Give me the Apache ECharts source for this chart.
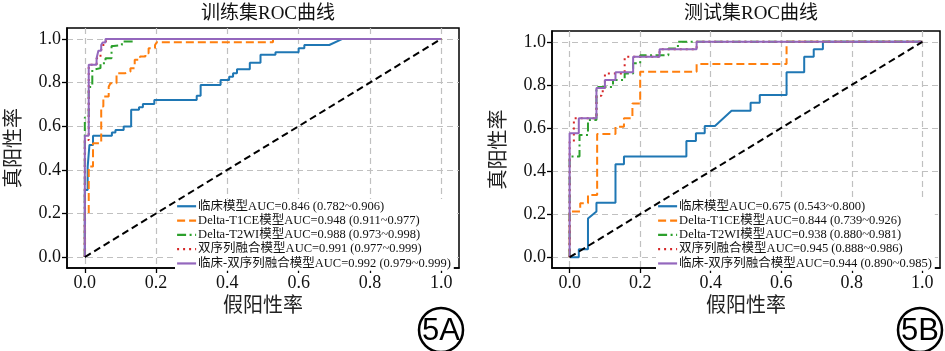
<!DOCTYPE html>
<html><head><meta charset="utf-8">
<script src="https://cdn.jsdelivr.net/npm/echarts@6.0.0/dist/echarts.min.js"></script>
<style>html,body{margin:0;padding:0;background:#fff}#c{width:945px;height:351px}</style>
</head><body><div id="c"></div><script>
// ---------- data ----------
const tickValues = [0, 0.2, 0.4, 0.6, 0.8, 1.0];
const titles = ['训练集ROC曲线', '测试集ROC曲线'];
const xName = '假阳性率';
const yName = '真阳性率';
const panelTags = ['5A', '5B'];

const trainNames = [
  '临床模型AUC=0.846 (0.782~0.906)',
  'Delta-T1CE模型AUC=0.948 (0.911~0.977)',
  'Delta-T2WI模型AUC=0.988 (0.973~0.998)',
  '双序列融合模型AUC=0.991 (0.977~0.999)',
  '临床-双序列融合模型AUC=0.992 (0.979~0.999)'
];
const testNames = [
  '临床模型AUC=0.675 (0.543~0.800)',
  'Delta-T1CE模型AUC=0.844 (0.739~0.926)',
  'Delta-T2WI模型AUC=0.938 (0.880~0.981)',
  '双序列融合模型AUC=0.945 (0.888~0.986)',
  '临床-双序列融合模型AUC=0.944 (0.890~0.985)'
];

// [FPR, TPR] points, training set
const trainClinical = [[0,0],[0,0.307],[0.008,0.307],[0.008,0.415],[0.013,0.415],[0.013,0.514],[0.023,0.514],[0.023,0.556],[0.076,0.556],[0.076,0.571],[0.086,0.571],[0.086,0.583],[0.109,0.583],[0.109,0.598],[0.13,0.598],[0.13,0.675],[0.152,0.675],[0.152,0.687],[0.163,0.687],[0.163,0.702],[0.195,0.702],[0.195,0.72],[0.314,0.72],[0.314,0.739],[0.325,0.739],[0.325,0.789],[0.381,0.789],[0.381,0.812],[0.405,0.812],[0.405,0.827],[0.416,0.827],[0.416,0.843],[0.427,0.843],[0.427,0.861],[0.463,0.861],[0.463,0.891],[0.493,0.891],[0.493,0.927],[0.535,0.927],[0.535,0.939],[0.6,0.939],[0.6,0.957],[0.616,0.957],[0.616,0.972],[0.686,0.972],[0.723,1],[1,1]];
const trainT1CE = [[0,0],[0,0.2],[0.011,0.2],[0.011,0.415],[0.023,0.415],[0.023,0.522],[0.046,0.522],[0.046,0.69],[0.052,0.69],[0.052,0.736],[0.067,0.736],[0.067,0.781],[0.072,0.781],[0.072,0.797],[0.089,0.797],[0.089,0.843],[0.114,0.843],[0.114,0.85],[0.128,0.85],[0.128,0.866],[0.14,0.866],[0.14,0.904],[0.155,0.904],[0.155,0.919],[0.17,0.919],[0.17,0.934],[0.179,0.934],[0.179,0.957],[0.197,0.957],[0.197,0.972],[0.202,0.972],[0.202,0.985],[0.528,0.985],[0.528,1],[1,1]];
const trainT2WI = [[0,0],[0,0.64],[0.011,0.64],[0.011,0.78],[0.021,0.78],[0.021,0.858],[0.025,0.858],[0.025,0.866],[0.044,0.866],[0.044,0.889],[0.058,0.889],[0.058,0.911],[0.075,0.911],[0.075,0.968],[0.081,0.968],[0.081,0.972],[0.104,0.972],[0.104,0.988],[0.137,0.988],[0.137,1],[1,1]];
const trainFusion = [[0,0],[0,0.537],[0.011,0.537],[0.011,0.881],[0.033,0.881],[0.033,0.911],[0.044,0.911],[0.044,0.935],[0.049,0.935],[0.049,0.972],[0.058,0.972],[0.058,0.985],[0.062,0.985],[0.062,1],[1,1]];
const trainFusionClinical = [[0,0],[0,0.556],[0.011,0.556],[0.011,0.881],[0.033,0.881],[0.033,0.911],[0.038,0.911],[0.038,0.946],[0.046,0.946],[0.046,0.972],[0.05,0.972],[0.05,0.983],[0.058,0.983],[0.058,1],[1,1]];

// [FPR, TPR] points, test set
const testClinical = [[0,0],[0.026,0],[0.026,0.037],[0.052,0.037],[0.052,0.18],[0.076,0.212],[0.076,0.253],[0.13,0.253],[0.13,0.431],[0.154,0.431],[0.154,0.467],[0.331,0.467],[0.331,0.539],[0.358,0.539],[0.358,0.575],[0.383,0.575],[0.383,0.609],[0.412,0.609],[0.459,0.68],[0.513,0.68],[0.513,0.717],[0.539,0.717],[0.539,0.753],[0.615,0.753],[0.615,0.858],[0.665,0.858],[0.665,0.93],[0.692,0.93],[0.692,0.965],[0.718,0.965],[0.718,1],[1,1]];
const testT1CE = [[0,0],[0,0.212],[0.03,0.212],[0.03,0.25],[0.052,0.25],[0.052,0.289],[0.078,0.289],[0.078,0.572],[0.13,0.572],[0.13,0.606],[0.154,0.606],[0.154,0.645],[0.178,0.645],[0.178,0.714],[0.2,0.714],[0.2,0.861],[0.36,0.861],[0.36,0.897],[0.615,0.897],[0.615,1],[1,1]];
const testT2WI = [[0,0],[0,0.467],[0.028,0.467],[0.028,0.567],[0.052,0.567],[0.052,0.637],[0.076,0.637],[0.076,0.79],[0.123,0.79],[0.123,0.822],[0.156,0.822],[0.156,0.853],[0.18,0.853],[0.18,0.9],[0.2,0.9],[0.2,0.938],[0.28,0.938],[0.28,0.969],[0.307,0.969],[0.307,1],[1,1]];
const testFusion = [[0,0],[0,0.536],[0.012,0.536],[0.012,0.645],[0.076,0.645],[0.076,0.75],[0.09,0.75],[0.09,0.77],[0.1,0.77],[0.1,0.853],[0.156,0.853],[0.156,0.93],[0.255,0.93],[0.255,0.965],[0.36,0.965],[0.36,1],[1,1]];
const testFusionClinical = [[0,0],[0,0.575],[0.026,0.575],[0.026,0.645],[0.076,0.645],[0.076,0.785],[0.1,0.785],[0.1,0.822],[0.13,0.822],[0.13,0.858],[0.18,0.858],[0.18,0.93],[0.255,0.93],[0.255,0.965],[0.36,0.965],[0.36,1],[1,1]];

const chanceLine = [[0,0],[1,1]];

// ---------- styles ----------
const SERIF = "'Liberation Serif','Noto Sans CJK SC',serif";
const colors = ['#1f77b4', '#ff7f0e', '#2ca02c', '#d62728', '#9467bd'];
const dashes = ['solid', [8, 4], [9, 3.5, 2, 3.5], [2, 4], 'solid'];
const gridBoxes = [
  {left: 67, top: 28, width: 392, height: 240},
  {left: 552, top: 31, width: 388, height: 237}
];

const chart = echarts.init(document.getElementById('c'), null, {renderer: 'canvas'});

function xAxisCfg(gi) {
  return {
    type: 'value', gridIndex: gi, min: -0.05, max: 1.05,
    name: xName, nameLocation: 'middle', nameGap: 26,
    nameTextStyle: {fontFamily: SERIF, fontSize: 20, color: '#222'},
    axisLine: {show: true, onZero: false, lineStyle: {color: '#000', width: 1.5}},
    axisTick: {show: true, customValues: tickValues, length: 5, lineStyle: {color: '#000', width: 1.3}},
    axisLabel: {customValues: tickValues, formatter: v => Number(v).toFixed(1), fontFamily: SERIF, fontSize: 18, color: '#111', margin: 6},
    splitLine: {show: true, lineStyle: {color: '#c0c0c0', type: [6, 4], width: 1.2}}
  };
}
function yAxisCfg(gi) {
  return {
    type: 'value', gridIndex: gi, min: -0.05, max: 1.05,
    name: yName, nameLocation: 'middle', nameGap: 42, nameRotate: 90,
    nameTextStyle: {fontFamily: SERIF, fontSize: 20, color: '#222'},
    axisLine: {show: true, onZero: false, lineStyle: {color: '#000', width: 1.5}},
    axisTick: {show: true, customValues: tickValues, length: 5, lineStyle: {color: '#000', width: 1.3}},
    axisLabel: {customValues: tickValues, formatter: v => Number(v).toFixed(1), fontFamily: SERIF, fontSize: 18, color: '#111', margin: 6},
    splitLine: {show: true, lineStyle: {color: '#c0c0c0', type: [6, 4], width: 1.2}}
  };
}

const trainCurves = [trainClinical, trainT1CE, trainT2WI, trainFusion, trainFusionClinical];
const testCurves = [testClinical, testT1CE, testT2WI, testFusion, testFusionClinical];

const series = [];
[[trainNames, trainCurves], [testNames, testCurves]].forEach(([names, curves], gi) => {
  curves.forEach((d, i) => {
    series.push({
      type: 'line', name: names[i], data: d, xAxisIndex: gi, yAxisIndex: gi,
      symbol: 'none', showSymbol: false, animation: false, z: 2 + i,
      lineStyle: {color: colors[i], width: 2, type: dashes[i]},
      itemStyle: {color: colors[i]}
    });
  });
  series.push({
    type: 'line', data: chanceLine, xAxisIndex: gi, yAxisIndex: gi,
    symbol: 'none', animation: false, z: 9,
    lineStyle: {color: '#000', width: 2, type: [7, 4]}
  });
});

function legendCfg(names, left, top) {
  return {
    data: names, orient: 'vertical', left: left, top: top,
    itemWidth: 19, itemHeight: 10, itemGap: 1.8, selectedMode: false,
    backgroundColor: '#fff', padding: [1, 3, 1, 1],
    itemStyle: {color: 'rgba(0,0,0,0)', borderColor: 'rgba(0,0,0,0)', borderWidth: 0, opacity: 0},
    lineStyle: {width: 2.2},
    textStyle: {fontFamily: SERIF, fontSize: 12.5, color: '#111', lineHeight: 11, padding: [0, 0, 0, -3]}
  };
}

const graphic = [];
[[441, 330], [920, 330]].forEach((c, i) => {
  graphic.push({type: 'circle', shape: {cx: c[0], cy: c[1], r: 22}, style: {fill: 'none', stroke: '#000', lineWidth: 2.5}, z: 100});
  graphic.push({type: 'text', x: c[0], y: c[1] + 1, style: {text: panelTags[i], font: "31px 'Liberation Sans', Arial, sans-serif", textAlign: 'center', textVerticalAlign: 'middle', fill: '#000'}, z: 100});
});

chart.setOption({
  animation: false,
  backgroundColor: '#fff',
  title: [
    {text: titles[0], left: 263, top: 0, textAlign: 'center', textStyle: {fontFamily: SERIF, fontSize: 19, fontWeight: 'normal', color: '#111'}},
    {text: titles[1], left: 746, top: 0, textAlign: 'center', textStyle: {fontFamily: SERIF, fontSize: 19, fontWeight: 'normal', color: '#111'}}
  ],
  grid: gridBoxes.map(g => Object.assign({show: true, borderColor: '#000', borderWidth: 1.5, backgroundColor: 'transparent', containLabel: false}, g)),
  xAxis: [xAxisCfg(0), xAxisCfg(1)],
  yAxis: [yAxisCfg(0), yAxisCfg(1)],
  legend: [legendCfg(trainNames, 175, 199), legendCfg(testNames, 656, 199)],
  graphic: graphic,
  series: series
});
</script></body></html>
